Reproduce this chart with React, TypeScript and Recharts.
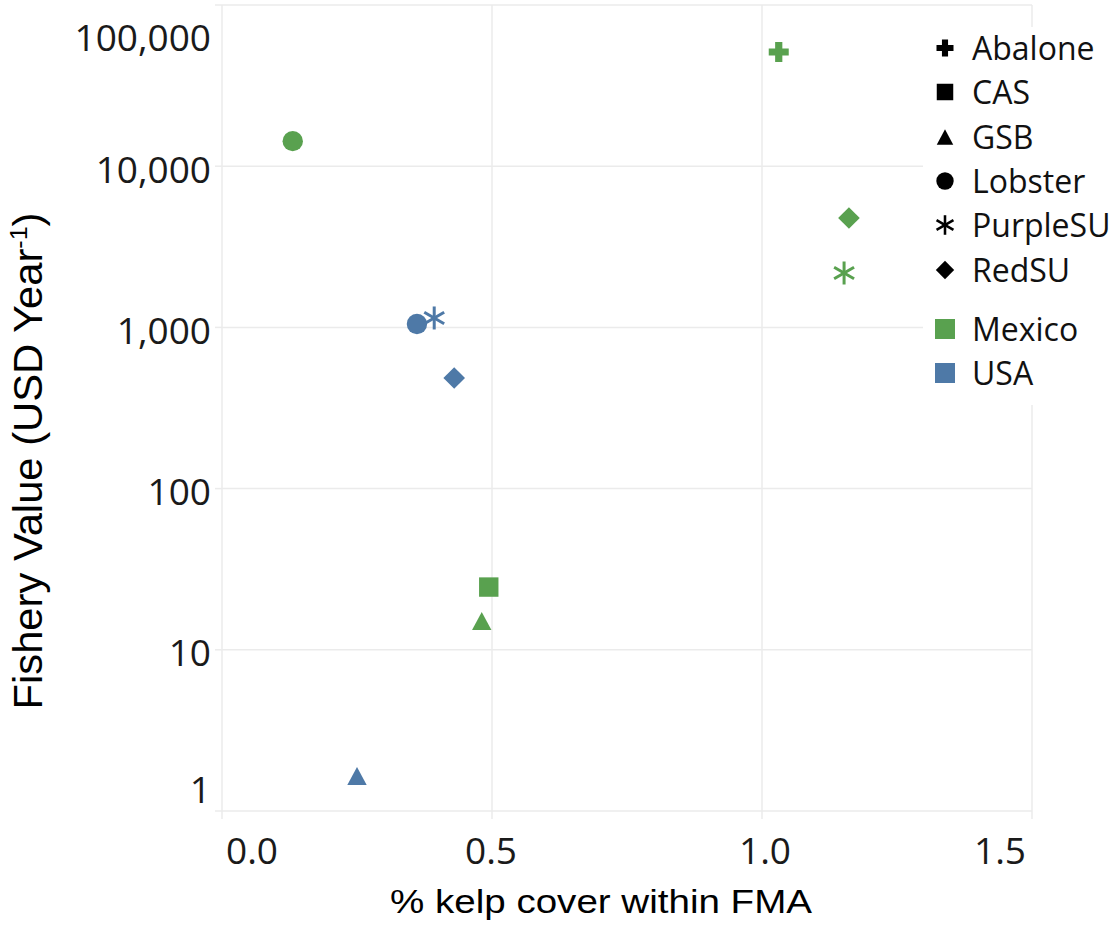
import React from 'react';
import { ScatterChart, Scatter, XAxis, YAxis, CartesianGrid, Label } from 'recharts';

// ---- data ----
const speciesList = ['Abalone', 'CAS', 'GSB', 'Lobster', 'PurpleSU', 'RedSU'];
const countryList = ['Mexico', 'USA'];

const mexicoSpecies = ['Abalone', 'CAS', 'GSB', 'Lobster', 'PurpleSU', 'RedSU'];
const mexicoKelp = [1.031, 0.494, 0.481, 0.131, 1.152, 1.161];
const mexicoValue = [51100, 24.5, 15.1, 14300, 2175, 4770];

const usaSpecies = ['GSB', 'Lobster', 'PurpleSU', 'RedSU'];
const usaKelp = [0.25, 0.361, 0.393, 0.43];
const usaValue = [1.65, 1050, 1144, 485];

const xTicks = [0, 0.5, 1, 1.5];
const yTicks = [1, 10, 100, 1000, 10000, 100000];

const xTitle = '% kelp cover within FMA';
const yTitle = 'Fishery Value (USD Year';

// ---- styles ----
const GREEN = '#59A14F';
const BLUE = '#4E79A7';
const GRID = '#ebebeb';
const countryColor: Record<string, string> = { Mexico: GREEN, USA: BLUE };

const mexicoData = mexicoSpecies.map((s, i) => ({ species: s, kelp: mexicoKelp[i], value: mexicoValue[i] }));
const usaData = usaSpecies.map((s, i) => ({ species: s, kelp: usaKelp[i], value: usaValue[i] }));

function shapeEl(kind: string, cx: number, cy: number, color: string, s: number) {
  switch (kind) {
    case 'Abalone': {
      const L = 10 * s, T = 3.6 * s;
      const pts = [
        [cx - T, cy - L], [cx + T, cy - L], [cx + T, cy - T], [cx + L, cy - T], [cx + L, cy + T], [cx + T, cy + T],
        [cx + T, cy + L], [cx - T, cy + L], [cx - T, cy + T], [cx - L, cy + T], [cx - L, cy - T], [cx - T, cy - T],
      ].map((p) => p.join(',')).join(' ');
      return <polygon points={pts} fill={color} />;
    }
    case 'CAS': {
      const h = 9.7 * s;
      return <rect x={cx - h} y={cy - h} width={2 * h} height={2 * h} fill={color} />;
    }
    case 'GSB': {
      const w = 9.7 * s, h = 9 * s;
      return <polygon points={`${cx},${cy - h} ${cx + w},${cy + h} ${cx - w},${cy + h}`} fill={color} />;
    }
    case 'Lobster':
      return <circle cx={cx} cy={cy} r={10.2 * s} fill={color} />;
    case 'PurpleSU': {
      const r = 11.5 * s;
      const lines = [90, 30, -30].map((a) => {
        const rad = (a * Math.PI) / 180;
        const dx = r * Math.cos(rad), dy = r * Math.sin(rad);
        return <line key={a} x1={cx - dx} y1={cy - dy} x2={cx + dx} y2={cy + dy} stroke={color} strokeWidth={3 * s} />;
      });
      return <g>{lines}</g>;
    }
    case 'RedSU': {
      const r = 10.8 * s;
      return <polygon points={`${cx},${cy - r} ${cx + r},${cy} ${cx},${cy + r} ${cx - r},${cy}`} fill={color} />;
    }
    default:
      return <rect x={cx - 10 * s} y={cy - 10 * s} width={20 * s} height={20 * s} fill={color} />;
  }
}

const makeShape = (color: string) => (props: any) => {
  const { cx, cy, payload } = props;
  if (cx == null || cy == null) return <g />;
  return shapeEl(payload.species, cx, cy, color, 1);
};

function YTick(props: any) {
  const { x, y, payload } = props;
  const v = payload.value;
  const shift = v === 100000 ? 27 : v === 1 ? -23 : 2;
  return (
    <text x={x} y={y + shift} textAnchor="end" dominantBaseline="central" fontFamily="'Open Sans', sans-serif" fontSize={37} fill="#1a1a1a">
      {Number(v).toLocaleString('en-US')}
    </text>
  );
}

function XTick(props: any) {
  const { x, y, payload } = props;
  const v = payload.value;
  const shift = v === 0 ? 30 : v === 1.5 ? -32 : v === 1 ? 3 : -1;
  return (
    <text x={x + shift} y={y + 30} textAnchor="middle" dominantBaseline="central" fontFamily="'Open Sans', sans-serif" fontSize={37} fill="#1a1a1a">
      {Number(v).toFixed(1)}
    </text>
  );
}

function XTitle(props: any) {
  const vb = props.viewBox || { x: 222, y: 811, width: 810, height: 117 };
  const cx = vb.x + vb.width / 2 - 26;
  return (
    <text x={cx} y={vb.y + 102} textAnchor="middle" fontFamily="'Liberation Sans', Arial, sans-serif" fontSize={34} fill="#000" textLength={422} lengthAdjust="spacingAndGlyphs">
      {xTitle}
    </text>
  );
}

function YTitle(props: any) {
  const vb = props.viewBox || { x: 0, y: 5, width: 222, height: 806 };
  const x = vb.x + 42;
  const y = vb.y + vb.height / 2 + 53;
  return (
    <text x={x} y={y} transform={`rotate(-90 ${x} ${y})`} textAnchor="middle" fontFamily="'Liberation Sans', Arial, sans-serif" fontSize={40} fill="#000" textLength={497} lengthAdjust="spacingAndGlyphs">
      {yTitle}
      <tspan dy={-15} fontSize={24}>-1</tspan>
      <tspan dy={15}>)</tspan>
    </text>
  );
}

function Legend() {
  const rowStyle = (top: number): React.CSSProperties => ({
    position: 'absolute', left: 0, top: top - 22, height: 44, width: 192, display: 'flex', alignItems: 'center',
  });
  const textStyle: React.CSSProperties = {
    position: 'absolute', left: 49, fontFamily: "'Open Sans', sans-serif", fontSize: 32, color: '#111', lineHeight: '44px', whiteSpace: 'nowrap',
  };
  return (
    <div style={{ position: 'absolute', left: 923, top: 27, width: 192, height: 378, background: '#fff' }}>
      {speciesList.map((s, i) => (
        <div key={s} style={rowStyle(21 + i * 44.3)}>
          <svg width={44} height={44} style={{ position: 'absolute', left: 0, top: 0 }}>
            {shapeEl(s, 22, 22, '#000', 0.85)}
          </svg>
          <span style={textStyle}>{s}</span>
        </div>
      ))}
      {countryList.map((c, j) => (
        <div key={c} style={rowStyle(302 + j * 44.3)}>
          <svg width={44} height={44} style={{ position: 'absolute', left: 0, top: 0 }}>
            {shapeEl('country', 22, 22, countryColor[c], 1)}
          </svg>
          <span style={textStyle}>{c}</span>
        </div>
      ))}
    </div>
  );
}

export default function App() {
  return (
    <div style={{ position: 'absolute', left: 0, top: 0, width: 1115, height: 928, background: '#fff' }}>
      <ScatterChart width={1115} height={928} margin={{ top: 5, right: 83, left: 0, bottom: 0 }}>
        <CartesianGrid stroke={GRID} strokeWidth={1.5} />
        <XAxis
          type="number"
          dataKey="kelp"
          domain={[0, 1.5]}
          ticks={xTicks}
          allowDataOverflow
          height={117}
          axisLine={false}
          tickLine={{ stroke: GRID, strokeWidth: 1.5 }}
          tickSize={8}
          tickMargin={0}
          tick={<XTick />}
        >
          <Label content={<XTitle />} />
        </XAxis>
        <YAxis
          type="number"
          dataKey="value"
          scale="log"
          domain={[1, 100000]}
          ticks={yTicks}
          allowDataOverflow
          width={222}
          axisLine={false}
          tickLine={{ stroke: GRID, strokeWidth: 1.5 }}
          tickSize={7}
          tickMargin={4}
          tick={<YTick />}
        >
          <Label content={<YTitle />} />
        </YAxis>
        <Scatter name="Mexico" data={mexicoData} fill={GREEN} shape={makeShape(GREEN)} isAnimationActive={false} />
        <Scatter name="USA" data={usaData} fill={BLUE} shape={makeShape(BLUE)} isAnimationActive={false} />
      </ScatterChart>
      <Legend />
    </div>
  );
}
